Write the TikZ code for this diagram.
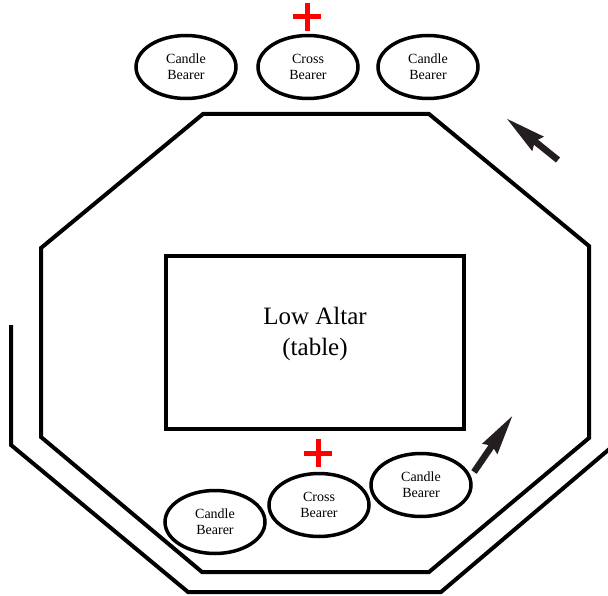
\documentclass[tikz,border=0pt]{standalone}
\usepackage{fontspec}
\setmainfont{Liberation Serif}
\usetikzlibrary{arrows.meta,shapes.geometric}
\definecolor{arrowgray}{HTML}{231F20}
\tikzset{
  wall/.style={line width=4pt, line join=miter, draw=black},
  person/.style={ellipse, draw=black, line width=3.5pt, minimum width=100pt, minimum height=63pt, inner sep=0pt, align=center, font=\fontsize{14}{16}\selectfont},
  altar/.style={draw=black, line width=4pt, minimum width=298pt, minimum height=173pt},
  altartext/.style={align=center, font=\fontsize{25}{31}\selectfont},
  redcross/.style={draw=red, line width=5pt},
  walkarrow/.style={draw=arrowgray, line width=6.5pt, -{Stealth[length=40pt,width=17pt,inset=3pt]}}
}
\begin{document}
\begin{tikzpicture}[x=1pt,y=-1pt]
\useasboundingbox (0,0) rectangle (608,596);
% octagon (sanctuary)
\draw[wall] (203,114) -- (429,114) -- (589,246) -- (589,438) -- (429,572) -- (202,572) -- (41,437) -- (41,248) -- cycle;
% outer procession path
\begin{scope}
\clip (0,0) rectangle (608,596);
\draw[wall] (11,325) -- (11,445) -- (188,592) -- (441,592) -- (620,440);
\end{scope}
% altar
\node[altar] (altar) at (315,342.5) {};
\node[altartext, yshift=9pt] (altarlabel) at (altar.center) {Low Altar\\(table)};
% top group
\node[person] (tl) at (186,67) {Candle\\Bearer};
\node[person] (tc) at (308,67) {Cross\\Bearer};
\node[person] (tr) at (428,67) {Candle\\Bearer};
% bottom group
\node[person] (bl) at (215,522) {Candle\\Bearer};
\node[person] (bc) at (319,505) {Cross\\Bearer};
\node[person] (br) at (421,485) {Candle\\Bearer};
% red crosses
\coordinate (crossT) at (307,17);
\coordinate (crossB) at (318,453);
\draw[redcross] ([yshift=-14pt]crossT) -- ([yshift=14pt]crossT);
\draw[redcross] ([xshift=-14pt]crossT) -- ([xshift=14pt]crossT);
\draw[redcross] ([yshift=-14pt]crossB) -- ([yshift=14pt]crossB);
\draw[redcross] ([xshift=-14pt]crossB) -- ([xshift=14pt]crossB);
% arrows
\coordinate (a1s) at (558,160);
\coordinate (a1e) at (506,118);
\coordinate (a2s) at (474,472);
\coordinate (a2e) at (513,415);
\draw[walkarrow] (a1s) -- (a1e);
\draw[walkarrow] (a2s) -- (a2e);
\end{tikzpicture}
\end{document}
